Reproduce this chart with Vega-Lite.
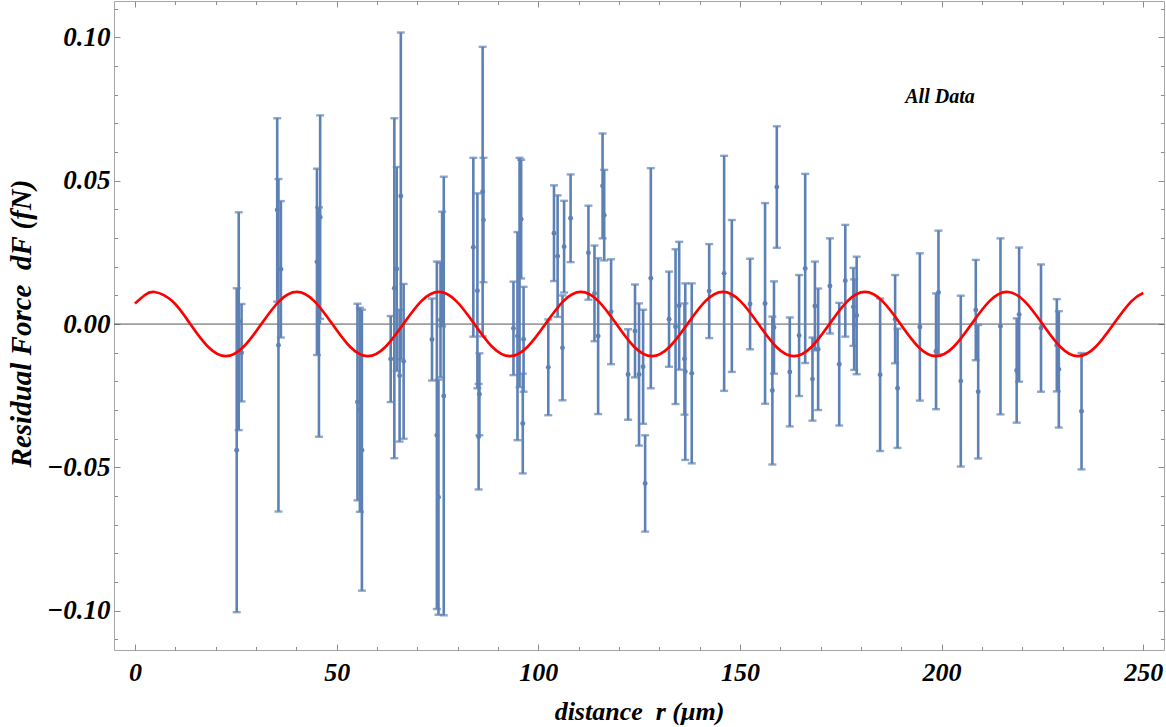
{
  "$schema": "https://vega.github.io/schema/vega-lite/v6.json",
  "width": 1050,
  "height": 649,
  "autosize": {"type": "none"},
  "padding": {"left": 114, "top": 1, "right": 2, "bottom": 77},
  "background": "white",
  "config": {"view": {"stroke": "#a6a6a6", "strokeWidth": 1}, "font": "Liberation Serif"},
  "resolve": {"axis": {"x": "independent", "y": "independent"}},
  "datasets": {
    "pts": [
      {"r":25.22,"dF":-0.044,"err":0.0565},{"r":25.72,"dF":0.001,"err":0.038},{"r":26.42,"dF":-0.010,"err":0.017},
      {"r":35.26,"dF":0.0398,"err":0.032},{"r":35.57,"dF":-0.0074,"err":0.058},{"r":36.17,"dF":0.0191,"err":0.0238},
      {"r":45.11,"dF":0.0217,"err":0.0325},{"r":45.61,"dF":0.0007,"err":0.040},{"r":45.91,"dF":0.0373,"err":0.0355},
      {"r":55.16,"dF":-0.0272,"err":0.0343},{"r":55.76,"dF":-0.0299,"err":0.0356},{"r":56.26,"dF":-0.044,"err":0.049},
      {"r":63.40,"dF":-0.0122,"err":0.015},{"r":64.30,"dF":0.0125,"err":0.0593},{"r":64.90,"dF":0.0192,"err":0.0356},{"r":65.61,"dF":-0.018,"err":0.023},{"r":65.91,"dF":0.0447,"err":0.057},{"r":66.61,"dF":-0.013,"err":0.027},
      {"r":73.64,"dF":-0.0054,"err":0.0143},{"r":74.85,"dF":-0.0388,"err":0.0606},{"r":75.25,"dF":-0.0604,"err":0.041},{"r":75.75,"dF":0.0014,"err":0.020},{"r":76.16,"dF":0.0192,"err":0.020},{"r":76.56,"dF":-0.0251,"err":0.0765},
      {"r":83.89,"dF":0.0268,"err":0.0312},{"r":84.90,"dF":0.0116,"err":0.034},{"r":85.20,"dF":-0.0393,"err":0.0184},{"r":85.40,"dF":-0.0245,"err":0.0143},{"r":86.20,"dF":0.0462,"err":0.0505},{"r":86.40,"dF":0.0363,"err":0.0217},
      {"r":93.84,"dF":-0.0015,"err":0.0163},{"r":94.84,"dF":-0.0042,"err":0.0363},{"r":95.35,"dF":0.018,"err":0.040},{"r":95.75,"dF":0.0366,"err":0.0207},{"r":96.15,"dF":-0.0347,"err":0.0174},{"r":96.35,"dF":-0.0053,"err":0.0183},
      {"r":102.48,"dF":-0.0151,"err":0.0167},{"r":103.89,"dF":0.0317,"err":0.0167},{"r":104.79,"dF":0.0237,"err":0.0212},{"r":106.00,"dF":-0.0083,"err":0.0183},{"r":106.40,"dF":0.027,"err":0.016},{"r":108.01,"dF":0.0369,"err":0.0153},
      {"r":112.43,"dF":0.0249,"err":0.0164},{"r":113.93,"dF":0.0107,"err":0.0167},{"r":114.84,"dF":-0.0042,"err":0.0272},{"r":115.94,"dF":0.0482,"err":0.0183},{"r":116.34,"dF":0.038,"err":0.0158},{"r":118.05,"dF":0.0043,"err":0.0183},
      {"r":122.27,"dF":-0.0176,"err":0.0158},{"r":123.98,"dF":-0.0024,"err":0.0162},{"r":124.98,"dF":-0.0176,"err":0.0248},{"r":125.99,"dF":-0.0149,"err":0.0199},{"r":126.49,"dF":-0.0556,"err":0.0168},{"r":127.90,"dF":0.016,"err":0.0384},
      {"r":132.42,"dF":0.0017,"err":0.0166},{"r":134.03,"dF":-0.0009,"err":0.027},{"r":134.93,"dF":0.0064,"err":0.0223},{"r":136.24,"dF":-0.0122,"err":0.0194},{"r":136.44,"dF":-0.0166,"err":0.0308},{"r":138.05,"dF":-0.0172,"err":0.0314},
      {"r":142.37,"dF":0.0115,"err":0.0164},{"r":146.08,"dF":0.0177,"err":0.041},{"r":147.99,"dF":0.0098,"err":0.0265},
      {"r":152.51,"dF":0.007,"err":0.0158},{"r":156.23,"dF":0.0072,"err":0.035},{"r":158.04,"dF":-0.0232,"err":0.0258},{"r":158.44,"dF":-0.0012,"err":0.0161},{"r":159.14,"dF":0.0478,"err":0.0212},
      {"r":162.36,"dF":-0.0167,"err":0.019},{"r":164.67,"dF":-0.004,"err":0.0211},{"r":166.18,"dF":0.0194,"err":0.033},{"r":167.99,"dF":-0.0192,"err":0.0145},{"r":168.59,"dF":0.0063,"err":0.0155},{"r":169.39,"dF":-0.0088,"err":0.0212},
      {"r":172.31,"dF":0.0133,"err":0.0166},{"r":174.62,"dF":-0.014,"err":0.0214},{"r":176.12,"dF":0.0151,"err":0.0195},{"r":178.13,"dF":0.006,"err":0.0136},{"r":178.33,"dF":-0.0002,"err":0.0158},{"r":178.94,"dF":0.003,"err":0.0205},
      {"r":184.76,"dF":-0.0177,"err":0.0266},{"r":188.48,"dF":0.0017,"err":0.0154},{"r":189.08,"dF":-0.0224,"err":0.0208},{"r":194.61,"dF":-0.001,"err":0.0257},{"r":198.63,"dF":-0.0095,"err":0.0202},{"r":199.23,"dF":0.011,"err":0.0216},
      {"r":204.76,"dF":-0.0199,"err":0.0298},{"r":208.48,"dF":0.0049,"err":0.0175},{"r":209.08,"dF":-0.0236,"err":0.0233},{"r":214.60,"dF":-0.0008,"err":0.0307},{"r":218.62,"dF":-0.0162,"err":0.0182},{"r":219.23,"dF":0.0033,"err":0.0234},{"r":224.65,"dF":-0.0014,"err":0.0222},{"r":228.57,"dF":-0.0074,"err":0.0161},{"r":229.07,"dF":-0.0158,"err":0.0203},{"r":234.70,"dF":-0.0304,"err":0.0203}
    ],
    "curve": [
      {"r":0,"dF":0.00719},{"r":2.45,"dF":0.01015},{"r":4.90,"dF":0.0112},{"r":9.30,"dF":0.00792},{"r":13.71,"dF":0},{"r":18.11,"dF":-0.00792},{"r":22.51,"dF":-0.0112},{"r":26.91,"dF":-0.00792},{"r":31.32,"dF":0},{"r":35.72,"dF":0.00792},{"r":40.12,"dF":0.0112},{"r":44.52,"dF":0.00792},{"r":48.93,"dF":0},{"r":53.33,"dF":-0.00792},{"r":57.73,"dF":-0.0112},{"r":62.13,"dF":-0.00792},{"r":66.54,"dF":0},{"r":70.94,"dF":0.00792},{"r":75.34,"dF":0.0112},{"r":79.74,"dF":0.00792},{"r":84.15,"dF":0},{"r":88.55,"dF":-0.00792},{"r":92.95,"dF":-0.0112},{"r":97.35,"dF":-0.00792},{"r":101.76,"dF":0},{"r":106.16,"dF":0.00792},{"r":110.56,"dF":0.0112},{"r":114.96,"dF":0.00792},{"r":119.37,"dF":0},{"r":123.77,"dF":-0.00792},{"r":128.17,"dF":-0.0112},{"r":132.57,"dF":-0.00792},{"r":136.98,"dF":0},{"r":141.38,"dF":0.00792},{"r":145.78,"dF":0.0112},{"r":150.18,"dF":0.00792},{"r":154.59,"dF":0},{"r":158.99,"dF":-0.00792},{"r":163.39,"dF":-0.0112},{"r":167.79,"dF":-0.00792},{"r":172.20,"dF":0},{"r":176.60,"dF":0.00792},{"r":181.00,"dF":0.0112},{"r":185.40,"dF":0.00792},{"r":189.81,"dF":0},{"r":194.21,"dF":-0.00792},{"r":198.61,"dF":-0.0112},{"r":203.01,"dF":-0.00792},{"r":207.42,"dF":0},{"r":211.82,"dF":0.00792},{"r":216.22,"dF":0.0112},{"r":220.62,"dF":0.00792},{"r":225.03,"dF":0},{"r":229.43,"dF":-0.00792},{"r":233.83,"dF":-0.0112},{"r":238.23,"dF":-0.00792},{"r":242.64,"dF":0},{"r":247.04,"dF":0.00792},{"r":250,"dF":0.0108}
    ],
    "zero": [{"dF": 0}],
    "lab": [{"r": 199.6, "dF": 0.0792, "t": "All Data"}]
  },
  "layer": [
    {
      "data": {"name": "zero"},
      "mark": {"type": "rule", "color": "#555555", "strokeWidth": 1},
      "encoding": {"y": {"field": "dF", "type": "quantitative", "axis": null}}
    },
    {
      "data": {"name": "pts"},
      "mark": {"type": "errorbar", "color": "#5e81b5", "thickness": 2.6, "ticks": {"size": 8, "thickness": 2.4, "color": "#5e81b5"}},
      "encoding": {
        "x": {
          "field": "r", "type": "quantitative",
          "scale": {"domain": [-5.21, 255.15], "nice": false, "zero": false},
          "axis": {
            "orient": "bottom",
            "title": "distance\u00a0\u00a0r (μm)",
            "values": [0, 50, 100, 150, 200, 250],
            "format": "d",
            "labelOverlap": false, "labelBound": false, "labelFlush": false,
            "grid": false, "domain": false, "ticks": false, "tickSize": 0,
            "labelFont": "Liberation Serif", "labelFontStyle": "italic", "labelFontWeight": "bold", "labelFontSize": 26, "labelColor": "black",
            "labelPadding": 9,
            "titleFont": "Liberation Serif", "titleFontStyle": "italic", "titleFontWeight": "bold", "titleFontSize": 26, "titleColor": "black",
            "titleY": 61, "titleBaseline": "middle"
          }
        },
        "y": {
          "field": "dF", "type": "quantitative",
          "scale": {"domain": [-0.1137, 0.1127], "nice": false, "zero": false},
          "axis": {
            "orient": "left",
            "title": "Residual Force\u00a0\u00a0dF (fN)",
            "values": [-0.1, -0.05, 0, 0.05, 0.1],
            "format": ".2f",
            "labelOverlap": false, "labelBound": false, "labelFlush": false,
            "grid": false, "domain": false, "ticks": false, "tickSize": 0,
            "labelFont": "Liberation Serif", "labelFontStyle": "italic", "labelFontWeight": "bold", "labelFontSize": 27, "labelColor": "black",
            "labelPadding": 4,
            "titleFont": "Liberation Serif", "titleFontStyle": "italic", "titleFontWeight": "bold", "titleFontSize": 29, "titleColor": "black",
            "titleX": -93, "titleY": 322, "titleAngle": -90, "titleAlign": "center", "titleBaseline": "middle"
          }
        },
        "yError": {"field": "err"}
      }
    },
    {
      "data": {"name": "pts"},
      "mark": {"type": "point", "filled": true, "size": 24, "color": "#5e81b5", "opacity": 1},
      "encoding": {
        "x": {"field": "r", "type": "quantitative", "axis": {
          "orient": "top", "offset": -649, "title": null, "labels": false, "domain": false, "grid": false,
          "values": [0,10,20,30,40,50,60,70,80,90,100,110,120,130,140,150,160,170,180,190,200,210,220,230,240,250],
          "tickColor": "#8c8c8c", "tickWidth": 1,
          "tickSize": {"condition": {"test": "datum.value % 50 === 0", "value": 6}, "value": 3.5}
        }},
        "y": {"field": "dF", "type": "quantitative", "axis": {
          "orient": "right", "offset": -1050, "title": null, "labels": false, "domain": false, "grid": false,
          "values": [-0.11,-0.1,-0.09,-0.08,-0.07,-0.06,-0.05,-0.04,-0.03,-0.02,-0.01,0,0.01,0.02,0.03,0.04,0.05,0.06,0.07,0.08,0.09,0.1,0.11],
          "tickColor": "#8c8c8c", "tickWidth": 1,
          "tickSize": {"condition": {"test": "abs(round(datum.value*100)) % 5 === 0", "value": 6}, "value": 3.5}
        }}
      }
    },
    {
      "data": {"name": "curve"},
      "mark": {"type": "line", "color": "#ff0000", "strokeWidth": 2.7, "interpolate": "natural"},
      "encoding": {
        "x": {"field": "r", "type": "quantitative", "axis": {
          "orient": "bottom", "offset": -649, "title": null, "labels": false, "domain": false, "grid": false,
          "values": [0,10,20,30,40,50,60,70,80,90,100,110,120,130,140,150,160,170,180,190,200,210,220,230,240,250],
          "tickColor": "#8c8c8c", "tickWidth": 1,
          "tickSize": {"condition": {"test": "datum.value % 50 === 0", "value": 6}, "value": 3.5}
        }},
        "y": {"field": "dF", "type": "quantitative", "axis": {
          "orient": "left", "offset": -1050, "title": null, "labels": false, "domain": false, "grid": false,
          "values": [-0.11,-0.1,-0.09,-0.08,-0.07,-0.06,-0.05,-0.04,-0.03,-0.02,-0.01,0,0.01,0.02,0.03,0.04,0.05,0.06,0.07,0.08,0.09,0.1,0.11],
          "tickColor": "#8c8c8c", "tickWidth": 1,
          "tickSize": {"condition": {"test": "abs(round(datum.value*100)) % 5 === 0", "value": 6}, "value": 3.5}
        }}
      }
    },
    {
      "data": {"name": "lab"},
      "mark": {"type": "text", "font": "Liberation Serif", "fontStyle": "italic", "fontWeight": "bold", "fontSize": 20, "color": "black"},
      "encoding": {
        "x": {"field": "r", "type": "quantitative", "axis": null},
        "y": {"field": "dF", "type": "quantitative", "axis": null},
        "text": {"field": "t"}
      }
    }
  ]
}
